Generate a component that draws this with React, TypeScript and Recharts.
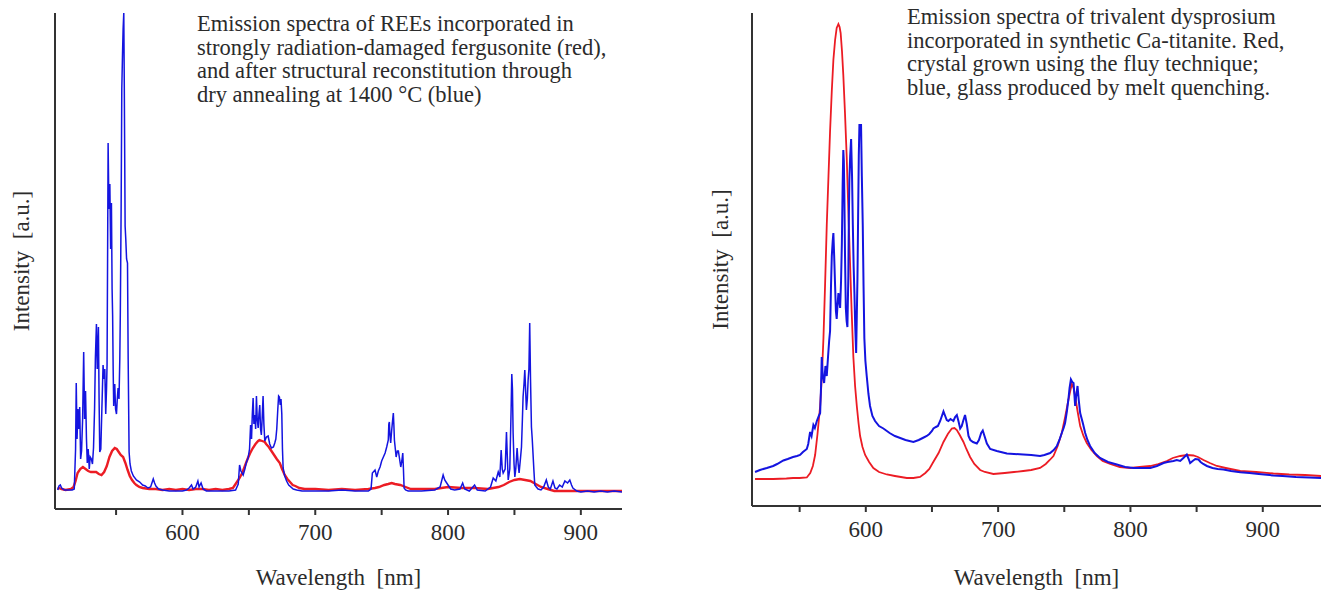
import React from 'react';
import { LineChart, Line, XAxis, YAxis, Label } from 'recharts';

// ---------- Left panel: fergusonite (wavelength nm, intensity a.u.) ----------
const leftBlue: [number, number][] = [
  [506, 19], [507, 23], [508, 24], [509, 21], [511, 19], [514, 19], [517, 19], [518.5, 20],
  [519.5, 60], [520, 126], [520.6, 70], [521.3, 100], [522, 80], [522.6, 102], [523.3, 50], [524, 58],
  [524.8, 90], [525.6, 157], [526.3, 90], [527, 118], [527.7, 70], [528.3, 46], [529, 60], [529.8, 40],
  [530.5, 52], [531.4, 50], [532.2, 45], [533, 61], [533.8, 100], [534.4, 150], [535.2, 185], [535.8, 140],
  [536.7, 182], [537.2, 110], [537.7, 57], [538.5, 60], [539.3, 100], [540.2, 144], [540.8, 130], [541.5, 140],
  [542.2, 95], [542.8, 120], [543.2, 144], [543.6, 250], [544, 366], [544.6, 300], [545.3, 325], [545.9, 260],
  [546.5, 306], [547, 220], [547.4, 193], [547.8, 140], [548.2, 103], [548.6, 120], [549, 125], [549.6, 100],
  [550.3, 95], [550.9, 110], [551.5, 121], [552.2, 110], [552.8, 150], [553.2, 197], [553.8, 300], [554.3, 420],
  [554.8, 452], [555.3, 480], [555.8, 496], [556.2, 420], [556.8, 283], [557.3, 270], [557.9, 250], [558.6, 246],
  [559.1, 150], [559.8, 57], [560.5, 45], [561.5, 38], [563, 33], [565.3, 29], [567.8, 27], [570, 24],
  [572, 23], [574, 21], [576, 22], [578, 30], [579, 26], [580, 23], [582, 20], [585, 19], [590, 18],
  [595, 18], [600, 18], [603, 19], [605, 21], [606.8, 24], [608, 20], [610, 22], [611.6, 28], [612.5, 22],
  [614, 26], [615.5, 20], [618, 18], [625, 18], [630, 18], [635, 18], [640, 19], [642, 25], [643, 44],
  [644, 38], [645.7, 34], [647, 40], [648, 46], [649.4, 51], [650.5, 60], [651.3, 84], [652, 70], [652.6, 95],
  [653.2, 111], [653.8, 85], [654.5, 94], [655.1, 80], [655.7, 113], [656.3, 90], [657, 81], [657.6, 95],
  [658.2, 104], [658.8, 80], [659.4, 74], [660, 90], [660.7, 113], [661.3, 85], [662, 68], [663.2, 72],
  [664.5, 73], [665.7, 65], [667, 61], [668.5, 62], [669.5, 66], [670.3, 70], [671, 80], [671.8, 100],
  [672.4, 113], [673, 112], [673.6, 104], [674.2, 110], [674.8, 95], [675.3, 60], [675.8, 41], [677, 33],
  [678.4, 28], [680, 24], [683.4, 20], [686, 19], [690, 18], [700, 18], [710, 18], [720, 19], [730, 18],
  [740, 18], [742, 20], [743, 36], [745, 39], [746.3, 32], [747.5, 38], [748.8, 42], [750, 48], [751.3, 52],
  [752.6, 56], [753.8, 62], [755, 69], [755.4, 85], [755.8, 87], [756.2, 75], [756.8, 66], [757.5, 78],
  [758.2, 88], [758.8, 96], [759.2, 84], [759.6, 69], [760.3, 60], [760.9, 52], [761.8, 58], [762.6, 58],
  [763.5, 50], [764.4, 42], [765.2, 48], [765.9, 56], [766.4, 40], [766.9, 21], [768, 19], [770, 18],
  [780, 18], [790, 19], [794, 22], [796.3, 34], [797.5, 29], [798.5, 27], [800, 24], [802, 20], [805, 19],
  [809, 20], [811, 26], [812.5, 20], [816, 18], [820, 24], [822, 19], [828, 18], [832, 22], [834, 31],
  [836, 28], [837.8, 37], [839, 32], [840, 59], [840.8, 40], [841.5, 36], [843, 40], [844, 77], [844.7, 50],
  [845.3, 29], [846.5, 40], [847.5, 100], [848, 135], [848.5, 120], [849, 76], [849.7, 45], [850.3, 32],
  [851, 40], [852, 61], [852.8, 45], [853.5, 36], [854.5, 50], [855.3, 62], [856, 90], [856.5, 112],
  [857.2, 125], [857.8, 139], [858.4, 120], [859, 99], [859.7, 110], [860.3, 129], [860.9, 140], [861.5, 186],
  [862.1, 130], [862.8, 82], [863.4, 70], [864, 55], [864.6, 40], [865.3, 24], [866.5, 22], [867.8, 20],
  [870, 19], [872, 22], [874, 29], [875.5, 22], [877, 20], [879, 28], [880.5, 21], [882, 20], [884, 24],
  [886, 22], [888, 28], [890, 26], [891.7, 29], [893, 24], [894, 21], [897, 18], [900, 17], [905, 18],
  [910, 17], [915, 18], [920, 17], [925, 18], [931, 17],
];

const leftRed: [number, number][] = [
  [506, 20], [507, 21], [509, 20], [512, 19], [516, 20], [518, 22], [519.5, 28], [521, 36], [523, 40],
  [525, 42], [527, 40], [529, 38], [531, 37], [533, 37], [535, 37], [537, 35], [539, 34], [541, 37],
  [543, 43], [545, 52], [547, 58], [549, 61], [550.5, 60], [552, 57], [553.5, 54], [555.3, 52], [557, 46],
  [558.7, 39], [560.3, 33], [562, 29], [563.7, 26], [565.3, 24], [567.5, 22], [570, 21], [575, 20],
  [580, 20], [585, 19], [590, 20], [595, 19], [600, 20], [605, 19], [610, 20], [615, 20], [620, 19],
  [625, 20], [630, 19], [635, 20], [638, 21], [640, 25], [642, 29], [643, 31], [645, 36], [647, 43],
  [649, 50], [651, 56], [653, 61], [655, 65], [657, 68], [658, 69], [660, 68], [662, 67], [663, 65],
  [665, 62], [667, 58], [669, 54], [671, 50], [673.3, 46], [675, 40], [677, 34], [679, 30], [681, 27],
  [683, 24], [685, 23], [688, 21], [692, 20], [700, 20], [710, 19], [720, 20], [730, 19], [740, 20],
  [745, 21], [748, 22], [752, 24], [755, 25], [757.5, 26], [760, 25], [764, 24], [768, 22], [772, 20],
  [780, 20], [790, 20], [800, 22], [810, 21], [820, 21], [830, 20], [838, 22], [842, 24], [846, 27],
  [850, 29], [854, 30], [858, 29], [862, 28], [866, 25], [870, 22], [875, 20], [880, 18], [890, 18],
  [900, 18], [910, 18], [920, 18], [931, 18],
];

// ---------- Right panel: Dy3+ in Ca-titanite ----------
const rightRed: [number, number][] = [
  [516.3, 27], [530, 27], [540, 27.5], [545, 28], [550, 28], [555.4, 28.5], [558, 33], [560, 40],
  [561.7, 51], [563.5, 72], [565.5, 100], [566.8, 130], [568, 168], [569.2, 220], [570.5, 281],
  [571.8, 330], [573, 375], [574.3, 415], [575.5, 446], [576.8, 466], [578, 478], [579.3, 482],
  [580.2, 479], [581, 473], [582, 455], [583, 431], [584.3, 392], [585.6, 348], [586.8, 296],
  [588.1, 243], [589.3, 195], [590.6, 149], [591.9, 120], [593.2, 100], [594.5, 83], [595.7, 70],
  [597.5, 59], [599.5, 51], [602.5, 44], [605.7, 38], [610, 34], [615.9, 31.5], [622, 30], [631, 28],
  [636, 28], [641, 29], [645, 33], [648, 37], [651, 44], [655, 53], [658.7, 64], [662, 72], [665, 77.5],
  [667, 78], [668.8, 76], [671, 71], [673.8, 64], [676, 57], [678.8, 49], [682, 42], [686.4, 36],
  [690, 34], [696.4, 32], [705, 33], [712, 34], [719, 35], [725, 36], [731.7, 38], [736, 42], [739, 46],
  [741.8, 50], [745, 60], [748.1, 73], [750.5, 88], [753.1, 106], [754.5, 115], [755.7, 122], [757, 118],
  [758.2, 110], [760, 95], [762, 80], [764.5, 70], [767, 63], [770.5, 56], [774.6, 50], [779, 45],
  [784.7, 42], [792, 39], [799.8, 38], [807, 39], [815, 40], [821, 42], [827.5, 45], [832, 48],
  [837.6, 50], [843, 51], [847.6, 50.5], [851, 49], [855.2, 46], [860, 43], [865.3, 40], [872, 38],
  [883, 35], [895, 34], [908, 32.5], [920, 31.5], [932, 31], [944, 30],
];

const rightBlue: [number, number][] = [
  [516.3, 34], [520, 36], [525.2, 38], [530, 40], [533, 42], [537.7, 45.5], [541, 47], [545, 49],
  [548, 50], [550.3, 51], [552.5, 54], [555.4, 57], [556.5, 62], [557.9, 74], [559, 70], [560.4, 81],
  [561.5, 78], [563, 85], [564.5, 90], [565.5, 93], [566.2, 120], [566.7, 149], [567.5, 130], [568.5, 123],
  [569.5, 140], [570.5, 130], [571.5, 150], [572.3, 165], [573, 175], [573.7, 220], [574.3, 250],
  [575, 265], [575.5, 273], [576.1, 250], [576.8, 220], [577.4, 195], [578, 187], [578.6, 200],
  [579.3, 213], [580, 205], [580.6, 198], [581.3, 225], [581.9, 262], [582.5, 320], [583, 356],
  [583.4, 345], [583.8, 311], [584.3, 250], [584.9, 198], [585.5, 185], [586.1, 179], [586.8, 230],
  [587.2, 290], [587.6, 326], [588.2, 350], [588.9, 367], [589.6, 330], [590.2, 281], [590.8, 240],
  [591.4, 213], [592, 180], [592.7, 153], [593.2, 190], [593.7, 228], [594.2, 290], [594.7, 350],
  [595.2, 382], [595.8, 375], [596.4, 382], [597, 330], [597.7, 281], [598.3, 220], [598.9, 168],
  [599.7, 145], [600.7, 130], [602, 112], [603.2, 100], [605, 90], [607, 85], [610, 80], [613.3, 77.5],
  [618, 73], [622, 70], [626, 68], [630, 66], [633, 65], [636, 64], [640, 66], [643, 68], [646.1, 70],
  [648, 72], [650, 75], [651.1, 77.5], [653, 79], [654.5, 80], [656.2, 85], [657.5, 90], [658.7, 94.5],
  [660, 90], [661.2, 86], [662.4, 85], [664, 87], [666.2, 85], [667.5, 89], [668.8, 91], [670, 85],
  [671.3, 77.5], [672.5, 80], [673.8, 86], [675, 91], [676.3, 82], [677.6, 70], [679, 66], [681, 64],
  [683.9, 62.5], [685.5, 66], [687.2, 73], [688.4, 75.5], [689.7, 70], [691.5, 62.5], [694, 57], [699, 55],
  [706.6, 52.5], [712, 52], [719, 51.5], [725, 51], [731.7, 50], [735, 51], [739.3, 53], [742, 56],
  [744.4, 60], [746.3, 66], [748.1, 73], [749.5, 78], [750.6, 83], [752, 95], [753.1, 106.5], [754, 118],
  [755, 126.5], [756, 124], [757, 123], [757.6, 112], [758.2, 100], [759, 110], [760, 120], [761, 105],
  [762, 93], [764, 83], [765.8, 73], [767.5, 66], [769.5, 60], [773, 53], [777, 48], [783, 44],
  [789.7, 41.5], [796, 39], [802.3, 38], [808, 38], [815, 38], [820, 40], [825, 43], [828, 44],
  [832.5, 45], [835, 46], [837.6, 45], [840, 48], [842.6, 51.5], [844, 47], [845.1, 43], [847, 45],
  [849, 47], [851.4, 46.5], [853, 44], [855, 42], [857.8, 40], [862, 38], [866, 37], [870.3, 36.5],
  [876, 35], [883, 33.8], [890, 33], [897, 32], [908, 30.5], [915, 30], [925, 29], [935, 28.5], [944, 28],
];

const xTicks = [550, 600, 650, 700, 750, 800, 850, 900];
const leftDomain: [number, number] = [504, 931];
const rightDomain: [number, number] = [514, 944];
const leftYDomain: [number, number] = [0, 496];
const rightYDomain: [number, number] = [0, 493];

const leftCaption = [
  'Emission spectra of REEs incorporated in',
  'strongly radiation-damaged fergusonite (red),',
  'and after structural reconstitution through',
  'dry annealing at 1400 °C (blue)',
];
const rightCaption = [
  'Emission spectra of trivalent dysprosium',
  'incorporated in synthetic Ca-titanite. Red,',
  'crystal grown using the fluy technique;',
  'blue, glass produced by melt quenching.',
];

const toPts = (arr: [number, number][]) => arr.map(([w, v]) => ({ w, v }));

const FONT = '"Liberation Serif", "Times New Roman", serif';
const TEXT = '#2b2b2b';
const AXIS = '#333';
const BLUE = '#1414e0';
const RED = '#ec1c24';

const yLabel = (shift: number) => (props: any) => {
  const vb = props.viewBox || { x: 0, y: 0, width: 0, height: 0 };
  const cx = vb.x + vb.width / 2 + shift;
  const cy = vb.y + vb.height / 2;
  return (
    <text
      x={cx}
      y={cy}
      transform={`rotate(-90 ${cx} ${cy})`}
      textAnchor="middle"
      dominantBaseline="central"
      fill={TEXT}
      fontSize={23}
      fontFamily={FONT}
      style={{ whiteSpace: 'pre' }}
    >
      {'Intensity  [a.u.]'}
    </text>
  );
};

const fmt = (v: number) => (v % 100 === 0 ? String(v) : '');

function Panel(props: {
  width: number;
  yWidth: number;
  xHeight: number;
  rightMargin: number;
  domain: [number, number];
  yDomain: [number, number];
  red: [number, number][];
  blue: [number, number][];
  blueWidth: number;
  redWidth: number;
  labelShift: number;
}) {
  return (
    <LineChart
      width={props.width}
      height={591}
      margin={{ top: 13, right: props.rightMargin, bottom: 0, left: 0 }}
    >
      <XAxis
        type="number"
        dataKey="w"
        domain={props.domain}
        allowDataOverflow
        ticks={xTicks}
        tickFormatter={fmt}
        height={props.xHeight}
        stroke={AXIS}
        strokeWidth={2}
        tickSize={6}
        tickMargin={9}
        tick={{ fill: TEXT, fontSize: 23, fontFamily: FONT }}
      >
        <Label
          value={'Wavelength \u00A0[nm]'}
          position="insideBottom"
          offset={6}
          fill={TEXT}
          fontSize={23}
          fontFamily={FONT}
        />
      </XAxis>
      <YAxis
        type="number"
        domain={props.yDomain}
        allowDataOverflow
        width={props.yWidth}
        tick={false}
        tickLine={false}
        stroke={AXIS}
        strokeWidth={2}
        label={{ content: yLabel(props.labelShift) }}
      />
      <Line
        data={toPts(props.red)}
        dataKey="v"
        type="linear"
        stroke={RED}
        strokeWidth={props.redWidth}
        dot={false}
        isAnimationActive={false}
      />
      <Line
        data={toPts(props.blue)}
        dataKey="v"
        type="linear"
        stroke={BLUE}
        strokeWidth={props.blueWidth}
        dot={false}
        isAnimationActive={false}
      />
    </LineChart>
  );
}

function Caption({ lines, left, top }: { lines: string[]; left: number; top: number }) {
  return (
    <div
      style={{
        position: 'absolute',
        left,
        top,
        fontFamily: FONT,
        fontSize: 22.5,
        lineHeight: '23.7px',
        color: TEXT,
        whiteSpace: 'pre',
      }}
    >
      {lines.map((l, i) => (
        <div key={i}>{l}</div>
      ))}
    </div>
  );
}

export default function App() {
  return (
    <div style={{ position: 'relative', width: 1321, height: 591, background: '#fff', overflow: 'hidden' }}>
      <style>{'body{margin:0;background:#fff}'}</style>
      <div style={{ position: 'absolute', left: 0, top: 0 }}>
        <Panel
          width={640}
          yWidth={55}
          xHeight={82}
          rightMargin={18}
          domain={leftDomain}
          yDomain={leftYDomain}
          red={leftRed}
          blue={leftBlue}
          blueWidth={1.5}
          redWidth={2.4}
          labelShift={-6}
        />
      </div>
      <div style={{ position: 'absolute', left: 700, top: 0 }}>
        <Panel
          width={621}
          yWidth={52}
          xHeight={85}
          rightMargin={0}
          domain={rightDomain}
          yDomain={rightYDomain}
          red={rightRed}
          blue={rightBlue}
          blueWidth={2}
          redWidth={1.8}
          labelShift={-6}
        />
      </div>
      <Caption lines={leftCaption} left={197} top={12} />
      <Caption lines={rightCaption} left={907} top={5} />
    </div>
  );
}
